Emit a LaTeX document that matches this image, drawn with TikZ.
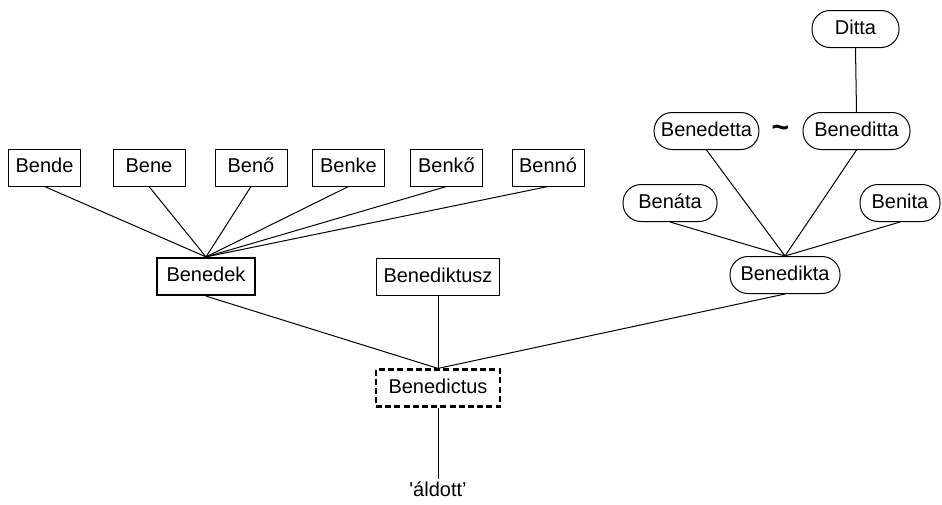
\documentclass[tikz,border=0pt]{standalone}
\usepackage{fontspec}
\setmainfont{Liberation Sans}
\usetikzlibrary{calc}
\tikzset{
	namebox/.style={draw, line width=0.5pt, inner xsep=3.4pt, inner ysep=0pt, text height=7.4pt, text depth=2pt, minimum height=18.5pt, minimum width=36pt, font=\fontsize{10}{12}\selectfont},
	mainbox/.style={namebox, line width=1.1pt, minimum width=49pt},
	rootbox/.style={namebox, line width=1.1pt, dash pattern=on 3pt off 1.6pt, minimum width=62pt},
	pillbox/.style={namebox, rounded corners=9pt},
	link/.style={line width=0.5pt}
}

\begin{document}
\begin{tikzpicture}[x=0.5pt, y=-0.5pt]
		%%%%% START %%%%%
		\useasboundingbox (0, 0) rectangle (942, 504);
		
		\node[namebox] (bende) at (44.5, 167.5) {Bende};
		\node[namebox] (bene) at (149, 167.5) {Bene};
		\node[namebox] (beno) at (251, 167.5) {Benő};
		\node[namebox] (benke) at (348.5, 167.5) {Benke};
		\node[namebox] (benko) at (446.5, 167.5) {Benkő};
		\node[namebox] (benno) at (548, 167.5) {Bennó};
		
		\node[mainbox] (benedek) at (206, 276.5) {Benedek};
		\node[namebox, minimum width=61pt] (benediktusz) at (438, 277) {Benediktusz};
		\node[pillbox, minimum width=55pt] (benedikta) at (785, 275) {Benedikta};
		
		\node[pillbox, minimum width=47pt] (benata) at (670, 203) {Benáta};
		\node[pillbox, minimum width=40pt] (benita) at (900, 203) {Benita};
		\node[pillbox, minimum width=51.5pt] (benedetta) at (706.5, 131) {Benedetta};
		\node[pillbox, minimum width=53.5pt] (beneditta) at (856.5, 131) {Beneditta};
		\node[pillbox, minimum width=43.5pt] (ditta) at (855.5, 29) {Ditta};
		\node[font=\fontsize{15}{15}\selectfont\bfseries] (tilde) at (780.5, 131) {\char"7E};
		
		\node[rootbox] (benedictus) at (438, 388) {Benedictus};
		\node[font=\fontsize{10}{12}\selectfont, inner sep=1pt] (aldott) at (438, 489) {\textquotesingle áldott’};
		
		\foreach \n in {bende, bene, beno, benke, benko, benno}
			\draw[link] (\n.south) -- (benedek.north);
		\foreach \n in {benata, benedetta, beneditta, benita}
			\draw[link] (\n.south) -- (benedikta.north);
		\draw[link] (ditta.south) -- (beneditta.north);
		
		\foreach \n in {benedek, benediktusz, benedikta}
			\draw[link] (\n.south) -- (benedictus.north);
		\draw[link] (benedictus.south) -- (aldott.north);
		
		%%%%% END %%%%%
\end{tikzpicture}
\end{document}
